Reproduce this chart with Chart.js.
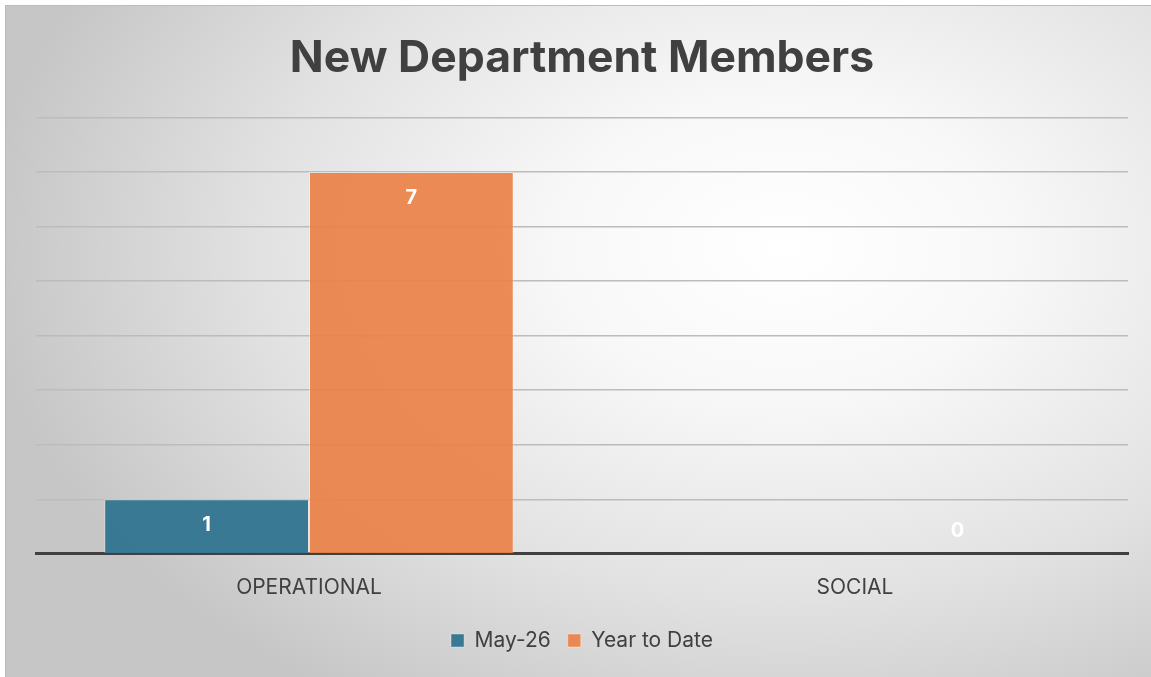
<!DOCTYPE html>
<html>
<head>
<meta charset="utf-8">
<script src="https://cdn.jsdelivr.net/npm/chart.js@4"></script>
<style>
  html, body { margin: 0; padding: 0; background: #fff; }
  #frame {
    position: absolute; left: 5px; top: 5px; width: 1146px; height: 672px;
    border-top: 1px solid #bcbcbc; border-left: 1px solid #bcbcbc; box-sizing: border-box;
    background: radial-gradient(ellipse 70% 80% at 68% 36%, #ffffff 0%, #f8f8f8 28%, #e2e2e2 65%, #c6c6c6 100%);
  }
</style>
</head>
<body>
<div id="frame"><canvas id="membersChart"></canvas></div>
<script>
const categories = ["OPERATIONAL", "SOCIAL"];
const monthValues = [1, null];
const ytdValues = [7, 0];
const seriesNames = ["May-26", "Year to Date"];

const textColor = '#404040';
const fontFamily = "Inter, 'Liberation Sans', sans-serif";

/// White value labels inside the bar tops
const valueLabels = {
    id: 'valueLabels',
    afterDatasetsDraw(chart) {
        const ctx = chart.ctx;
        const base = chart.scales.y.getPixelForValue(0);
        ctx.save();
        ctx.font = "bold 20px " + fontFamily;
        ctx.fillStyle = '#ffffff';
        ctx.textAlign = 'center';
        ctx.textBaseline = 'middle';
        chart.data.datasets.forEach((ds, i) => {
            chart.getDatasetMeta(i).data.forEach((bar, j) => {
                const v = ds.data[j];
                if (v === null || v === undefined) return;
                const y = Math.min(bar.y + 26, base - 23);
                ctx.fillText(String(v), bar.x, y);
            });
        });
        ctx.restore();
    }
};

const membersChart = new Chart("membersChart", {
    type: "bar",
    data: {
        labels: categories,
        datasets: [
            {
                label: seriesNames[0],
                backgroundColor: "rgba(52, 118, 145, 0.97)",
                borderColor: "rgba(255, 255, 255, 0.35)",
                borderWidth: 1,
                data: monthValues
            },
            {
                label: seriesNames[1],
                backgroundColor: "rgba(235, 129, 73, 0.92)",
                borderColor: "rgba(255, 255, 255, 0.35)",
                borderWidth: 1,
                data: ytdValues
            }
        ]
    },
    options: {
        responsive: true,
        maintainAspectRatio: false,
        animation: false,
        categoryPercentage: 0.75,
        barPercentage: 1.0,
        layout: {
            padding: { left: 30, right: 23, top: 0, bottom: 16 }
        },
        plugins: {
            title: {
                display: true,
                text: "New Department Members",
                color: textColor,
                font: { family: fontFamily, size: 44.5, weight: 'bold' },
                padding: { top: 26, bottom: 32 }
            },
            legend: {
                position: 'bottom',
                labels: {
                    color: textColor,
                    font: { family: fontFamily, size: 21 },
                    boxWidth: 13,
                    boxHeight: 13,
                    padding: 17
                }
            },
            tooltip: { enabled: false }
        },
        scales: {
            x: {
                grid: { display: false },
                border: { display: true, color: '#404040', width: 3 },
                ticks: {
                    color: textColor,
                    font: { family: fontFamily, size: 21 },
                    padding: 13
                }
            },
            y: {
                min: 0,
                max: 8,
                ticks: { display: false, stepSize: 1 },
                grid: { color: '#bcbcbc', lineWidth: 1.5, drawTicks: false },
                border: { display: false }
            }
        }
    },
    plugins: [valueLabels]
});
</script>
</body>
</html>
